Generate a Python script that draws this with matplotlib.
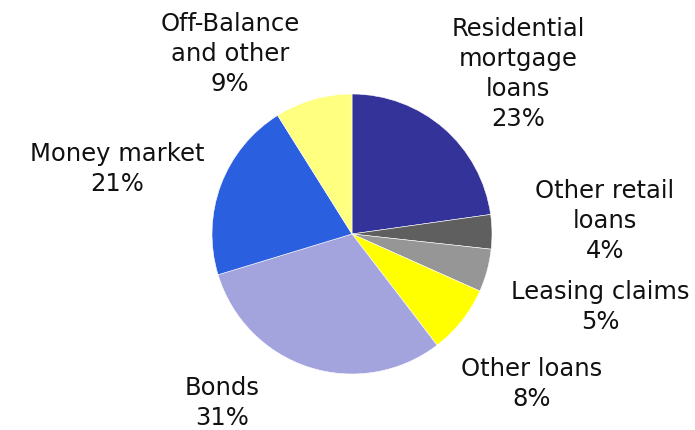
import matplotlib
matplotlib.use("Agg")
import matplotlib.pyplot as plt

categories = ["Residential\nmortgage\nloans", "Other retail\nloans", "Leasing claims",
              "Other loans", "Bonds", "Money market", "Off-Balance\nand other"]
values = [23, 4, 5, 8, 31, 21, 9]
colors = ["#333399", "#5F5F5F", "#969696", "#FFFF00", "#A3A3DE", "#2A5FDF", "#FFFF80"]
# label block centres in pixels (layout)
label_pos = [(518, 74), (605, 221), (600, 307), (532, 384), (222, 403), (117, 169), (230, 54)]

W, H = 695, 431
fig = plt.figure(figsize=(W / 100, H / 100), dpi=100)
cx, cy, r = 352, 235, 140
ax = fig.add_axes([(cx - r) / W, (H - cy - r) / H, 2 * r / W, 2 * r / H])
ax.pie(values, colors=colors, startangle=90, counterclock=False,
       wedgeprops=dict(linewidth=0.4, edgecolor="white"))
ax.set_xlim(-1, 1)
ax.set_ylim(-1, 1)
ax.axis("off")

for cat, v, (x, y) in zip(categories, values, label_pos):
    fig.text(x / W, 1 - y / H, f"{cat}\n{v}%", ha="center", va="center",
             fontsize=17.5, family=["DejaVu Sans"], linespacing=1.3, color="#111111")

fig.savefig("out.png", dpi=100)
